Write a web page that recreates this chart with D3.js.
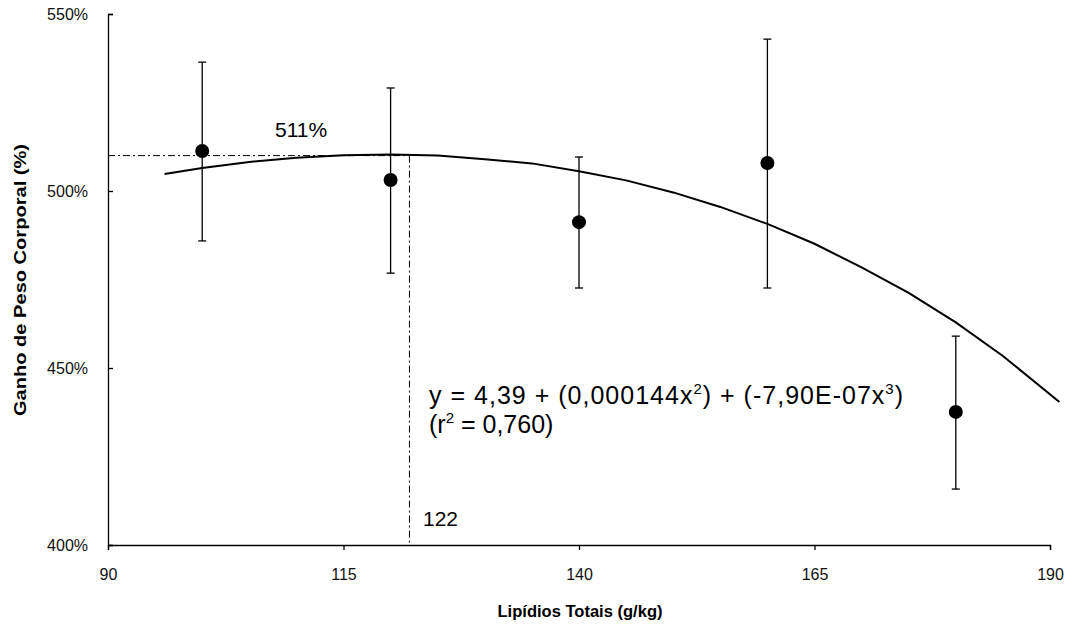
<!DOCTYPE HTML>
<html>
  <head>
  <title>Ganho de Peso Corporal | D3</title>
  <script src="https://d3js.org/d3.v7.min.js" charset="utf-8"></script>
  <style>
  body{
    margin: 0;
    background: white;
    font-family: Arial, "Liberation Sans", sans-serif;
  }
  .axis path, .axis line{
    stroke: #000;
    stroke-width: 1.3px;
  }
  .axis text{
    font-size: 16px;
    fill: #111;
  }
  .titulo{
    font-size: 17px;
    font-weight: bold;
  }
  .nota{
    font-size: 21px;
  }
  .equacao{
    font-size: 25px;
  }
  </style>
  </head>
  <body>
  <script>

    // medias e barras de erro
    var lipidios=[100,120,140,160,180];
    var ganho=[511.3,503.1,491.2,507.9,437.6];
    var erroSup=[536.4,529.1,509.6,542.9,459.0];
    var erroInf=[485.9,476.8,472.6,472.6,415.8];

    // curva ajustada
    var curvaX=[96,100,105,110,115,120,125,130,135,140,145,150,155,160,165,170,175,180,185,191];
    var curvaY=[504.8,506.5,508.2,509.4,510.1,510.3,510.0,509.0,507.8,505.6,503.0,499.6,495.5,490.7,485.1,478.4,471.2,462.9,453.4,440.4];

    var xTicks=[90,115,140,165,190];
    var yTicks=[400,450,500,550];

    var pontoMax=[122,510];

    var width=1076;
    var height=627;

    var svg=d3.select("body")
    .append("svg")
    .attr("width", width)
    .attr("height", height);

    var x=d3.scaleLinear().domain([90,190]).range([108,1050]);
    var y=d3.scaleLinear().domain([400,550]).range([545,14]);

    // eixos
    svg.append("g")
    .attr("class","axis")
    .attr("transform","translate(0,545)")
    .call(d3.axisBottom(x).tickValues(xTicks).tickSize(5).tickPadding(19));

    svg.append("g")
    .attr("class","axis")
    .attr("transform","translate(108,0)")
    .call(d3.axisLeft(y).tickValues(yTicks).tickSize(-5).tickPadding(20).tickFormat(function(d){return d+"%";}));

    // linhas tracejadas do ponto maximo
    var traco="7,3,2,3";
    svg.append("line")
    .attr("x1", x(90)).attr("x2", x(pontoMax[0]))
    .attr("y1", y(pontoMax[1])).attr("y2", y(pontoMax[1]))
    .attr("stroke","#000").attr("stroke-width",1).attr("stroke-dasharray",traco);

    svg.append("line")
    .attr("x1", x(pontoMax[0])).attr("x2", x(pontoMax[0]))
    .attr("y1", y(pontoMax[1])).attr("y2", y(400))
    .attr("stroke","#000").attr("stroke-width",1).attr("stroke-dasharray",traco);

    // curva
    var linha=d3.line()
    .x(function(d){return x(d[0]);})
    .y(function(d){return y(d[1]);});

    svg.append("path")
    .datum(d3.zip(curvaX,curvaY))
    .attr("fill","none")
    .attr("stroke","#000")
    .attr("stroke-width",2)
    .attr("d",linha);

    // barras de erro
    var barras=svg.append("g").attr("stroke","#000").attr("stroke-width",1.3);
    lipidios.forEach(function(v,i){
      barras.append("line")
      .attr("x1",x(v)).attr("x2",x(v))
      .attr("y1",y(erroSup[i])).attr("y2",y(erroInf[i]));
      [erroSup[i],erroInf[i]].forEach(function(e){
        barras.append("line")
        .attr("x1",x(v)-4).attr("x2",x(v)+4)
        .attr("y1",y(e)).attr("y2",y(e));
      });
    });

    svg.selectAll("circle")
    .data(lipidios)
    .enter()
    .append("circle")
    .attr("cx",function(d){return x(d);})
    .attr("cy",function(d,i){return y(ganho[i]);})
    .attr("r",7)
    .attr("fill","#000");

    // textos
    svg.append("text")
    .attr("class","nota")
    .attr("x",275).attr("y",137)
    .text("511%");

    svg.append("text")
    .attr("class","nota")
    .attr("x",423).attr("y",526)
    .text("122");

    var eq=svg.append("text").attr("class","equacao").attr("x",429).attr("y",404)
      .attr("textLength",474).attr("lengthAdjust","spacing");
    eq.append("tspan").text("y = 4,39 + (0,000144x");
    eq.append("tspan").attr("dy",-10).style("font-size","15px").text("2");
    eq.append("tspan").attr("dy",10).text(") + (-7,90E-07x");
    eq.append("tspan").attr("dy",-10).style("font-size","15px").text("3");
    eq.append("tspan").attr("dy",10).text(")");

    var r2=svg.append("text").attr("class","equacao").attr("x",429).attr("y",433);
    r2.append("tspan").text("(r");
    r2.append("tspan").attr("dy",-10).style("font-size","15px").text("2");
    r2.append("tspan").attr("dy",10).text(" = 0,760)");

    svg.append("text")
    .attr("class","titulo")
    .attr("text-anchor","middle")
    .attr("x",580).attr("y",617)
    .attr("textLength",165)
    .attr("lengthAdjust","spacingAndGlyphs")
    .text("Lipídios Totais (g/kg)");

    svg.append("text")
    .attr("class","titulo")
    .attr("text-anchor","middle")
    .attr("transform","translate(26,280) rotate(-90)")
    .attr("textLength",272)
    .attr("lengthAdjust","spacingAndGlyphs")
    .text("Ganho de Peso Corporal (%)");

  </script>
  </body>
</html>
